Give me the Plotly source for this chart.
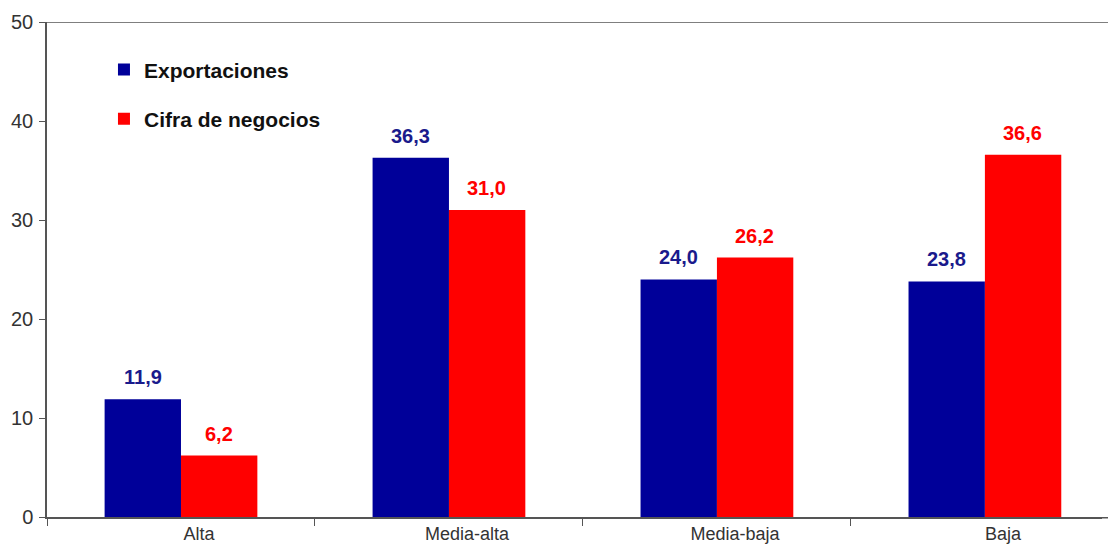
import plotly.graph_objects as go

categorias = ["Alta", "Media-alta", "Media-baja", "Baja"]
exportaciones = [11.9, 36.3, 24.0, 23.8]
cifra_negocios = [6.2, 31.0, 26.2, 36.6]
y_ticks = [0, 10, 20, 30, 40, 50]

AZUL = "#000099"
ROJO = "#ff0000"
FUENTE = "Arial, Liberation Sans, sans-serif"

fig = go.Figure()
series = [
    ("Exportaciones", exportaciones, AZUL, "#1a1a8c", -1),
    ("Cifra de negocios", cifra_negocios, ROJO, ROJO, 1),
]
for i, (nombre, valores, color, color_texto, lado) in enumerate(series):
    fig.add_trace(go.Bar(
        x=categorias, y=valores, name=nombre,
        marker=dict(color=color, line=dict(width=0)),
        legendgroup=str(i),
    ))
    # value labels above each bar
    for cat, v in zip(categorias, valores):
        fig.add_annotation(
            x=cat, y=v, xref="x", yref="y",
            text=f"<b>{v:.1f}</b>".replace(".", ","),
            showarrow=False, yanchor="bottom", yshift=9,
            xshift=lado * 38,
            font=dict(family=FUENTE, size=20, color=color_texto),
        )

# top border of the plot area, running to the right edge of the page
fig.add_shape(type="line", xref="paper", yref="y", x0=0, x1=1.01, y0=50, y1=50,
              line=dict(color="#555555", width=1.5))
# the category axis also runs on to the page edge
fig.add_shape(type="line", xref="paper", yref="paper", x0=0.99, x1=1.01,
              y0=-0.0015, y1=-0.0015,
              line=dict(color="#555555", width=1.5))

fig.update_layout(
    width=1108, height=547,
    margin=dict(l=47, r=6, t=22, b=30),
    paper_bgcolor="white", plot_bgcolor="white",
    barmode="group", bargap=0.43, bargroupgap=0,
    font=dict(family=FUENTE, size=19, color="#333333"),
    showlegend=True,
    legend=dict(
        x=0.054, y=0.945, xanchor="left", yanchor="top",
        bgcolor="rgba(0,0,0,0)", tracegroupgap=19,
        traceorder="grouped",
        font=dict(family=FUENTE, size=21, color="#111111", weight="bold"),
        itemwidth=30,
    ),
)
fig.update_xaxes(
    range=[-0.5, 3.437], showline=True, linecolor="#555555", linewidth=1.5,
    ticks="outside", tickson="boundaries", ticklen=7,
    tickcolor="#555555", showgrid=False, automargin=False,
    ticklabelshift=18, ticklabelstandoff=0,
    tickfont=dict(family=FUENTE, size=18, color="#333333"),
)
fig.update_yaxes(
    range=[0, 50], tickvals=y_ticks, showline=True, linecolor="#555555",
    linewidth=1.5, ticks="outside", ticklen=6, tickcolor="#555555",
    showgrid=False, zeroline=False, ticklabelstandoff=2, automargin=False,
    tickfont=dict(family=FUENTE, size=20, color="#333333"),
)

fig.write_html("out.html")
